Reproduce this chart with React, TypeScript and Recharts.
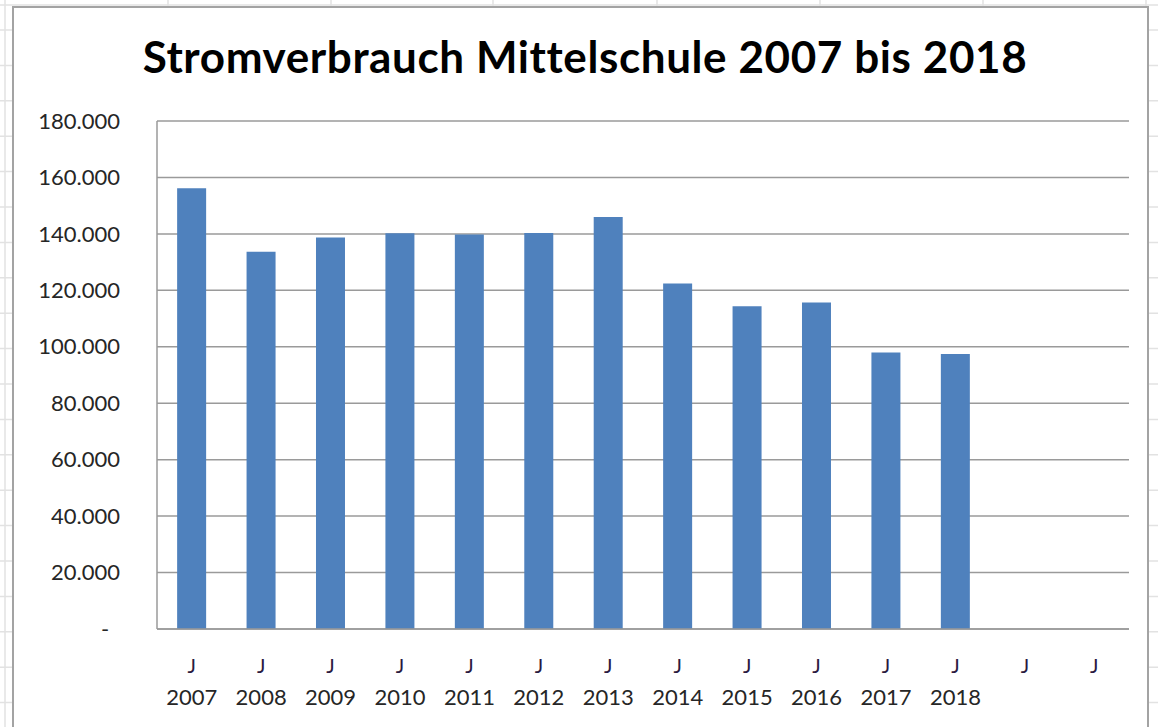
import React from 'react';
import { BarChart, Bar, XAxis, YAxis, CartesianGrid } from 'recharts';

const years = ['2007', '2008', '2009', '2010', '2011', '2012', '2013', '2014', '2015', '2016', '2017', '2018', '', ''];
const verbrauch = [156200, 133700, 138700, 140200, 139800, 140300, 146000, 122400, 114400, 115700, 98000, 97400, null, null];
const yTicks = [0, 20000, 40000, 60000, 80000, 100000, 120000, 140000, 160000, 180000];

const sheetCols = [5, 168, 331, 493, 657, 820, 983, 1146];
const sheetRows = [5, ...Array.from({ length: 20 }, (_, i) => 30 + i * 35.4)];

const data = years.map((year, i) => ({ year, value: verbrauch[i] }));

const FONT = 'Lato, "Open Sans", sans-serif';

const fmt = (v: number) => (v / 1000).toFixed(3);

const YTick = (props: any) => {
    const { x, y, payload } = props;
    if (payload.value === 0) {
        return (
            <text x={x - 44} y={y} dy="0.35em" textAnchor="middle" fontFamily={FONT} fontSize={22} fill="#262626">-</text>
        );
    }
    return (
        <text x={x - 29} y={y} dy="0.35em" textAnchor="end" fontFamily={FONT} fontSize={22} fill="#262626">
            {fmt(payload.value)}
        </text>
    );
};

const XTick = (props: any) => {
    const { x, y, payload } = props;
    return (
        <g>
            <text x={x} y={y + 36} textAnchor="middle" fontFamily={FONT} fontSize={20} fill="#2a1a40">J</text>
            <text x={x} y={y + 68} textAnchor="middle" fontFamily={FONT} fontSize={22} fill="#262626">{payload.value}</text>
        </g>
    );
};

export default function App() {
    return (
        <div style={{ position: 'absolute', left: 0, top: 0, width: 1158, height: 727, overflow: 'hidden', background: '#fff' }}>
            {/* spreadsheet grid behind the chart */}
            <svg width={1158} height={727} style={{ position: 'absolute', left: 0, top: 0 }}>
                {sheetCols.map((x) => (
                    <line key={`c${x}`} x1={x} x2={x} y1={0} y2={727} stroke="#e2e2e2" strokeWidth={1.5} />
                ))}
                {sheetRows.map((y) => (
                    <line key={`r${y}`} x1={0} x2={1158} y1={y} y2={y} stroke="#e2e2e2" strokeWidth={1.5} />
                ))}
            </svg>
            <div style={{ position: 'absolute', left: 12, top: 6, width: 1133, height: 760, background: '#fff', borderLeft: '2px solid #a3a3a3', borderTop: '2px solid #a3a3a3', borderRight: '2px solid #a3a3a3' }} />
            <div style={{ position: 'absolute', left: 0, top: 30, width: 1170, textAlign: 'center', fontFamily: FONT, fontWeight: 700, fontSize: 44, letterSpacing: 0.6, color: '#000', lineHeight: '52px' }}>
                Stromverbrauch Mittelschule 2007 bis 2018
            </div>
            <div style={{ position: 'absolute', left: 0, top: 0 }}>
                <BarChart width={1158} height={727} data={data} margin={{ top: 121, right: 29, left: 0, bottom: 8 }} barCategoryGap="29%">
                    <CartesianGrid vertical={false} stroke="#9a9a9a" strokeWidth={1.5} />
                    <XAxis
                        dataKey="year"
                        height={90}
                        axisLine={{ stroke: '#9a9a9a', strokeWidth: 1.5 }}
                        tickLine={false}
                        tick={<XTick />}
                        interval={0}
                    />
                    <YAxis
                        width={157}
                        domain={[0, 180000]}
                        ticks={yTicks}
                        axisLine={{ stroke: '#9a9a9a', strokeWidth: 1.5 }}
                        tickLine={false}
                        tick={<YTick />}
                        interval={0}
                    />
                    <Bar dataKey="value" fill="#4f81bd" isAnimationActive={false} />
                </BarChart>
            </div>
        </div>
    );
}
